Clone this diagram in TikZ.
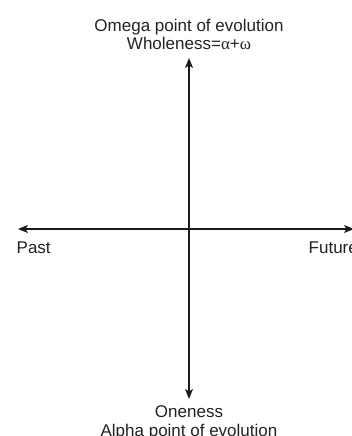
\documentclass[tikz,border=0pt]{standalone}
\usepackage{fontspec}
\setmainfont{Liberation Sans}
\newfontfamily\greekfont{Liberation Serif}
\usepackage{tikz}
\usetikzlibrary{arrows.meta,positioning}
\definecolor{axisblack}{HTML}{1A1A1A}
\definecolor{textgray}{HTML}{222222}
\tikzset{
  axistext/.style={inner sep=0pt, align=center, text=textgray, font=\fontsize{17}{18.3}\selectfont},
  axisline/.style={<->, >={Stealth[length=10pt,width=8pt,inset=2.5pt]}, line width=1.4pt, draw=axisblack}
}

\begin{document}
\begin{tikzpicture}[x=1pt, y=-1pt]
  \useasboundingbox (0,0) rectangle (352,436);
  % ends of the two axes
  \coordinate (past) at (18,229);
  \coordinate (future) at (354,229);
  \coordinate (omega) at (189,58);
  \coordinate (alpha) at (189,399);

  \node[axistext, anchor=north] (omegatext) at (189,19.1) {Omega point of evolution\\Wholeness={\greekfont α}+{\greekfont ω}};
  \node[axistext, anchor=north] (alphatext) at (189,405.9) {Oneness\\Alpha point of evolution};
  \node[axistext, anchor=base west] (pasttext) at (16.5,253) {Past};
  \node[axistext, anchor=base west] (futuretext) at (308.5,253) {Future};

  \draw[axisline] (past) -- (future);
  \draw[axisline] (alpha) -- (omega);
\end{tikzpicture}
\end{document}
